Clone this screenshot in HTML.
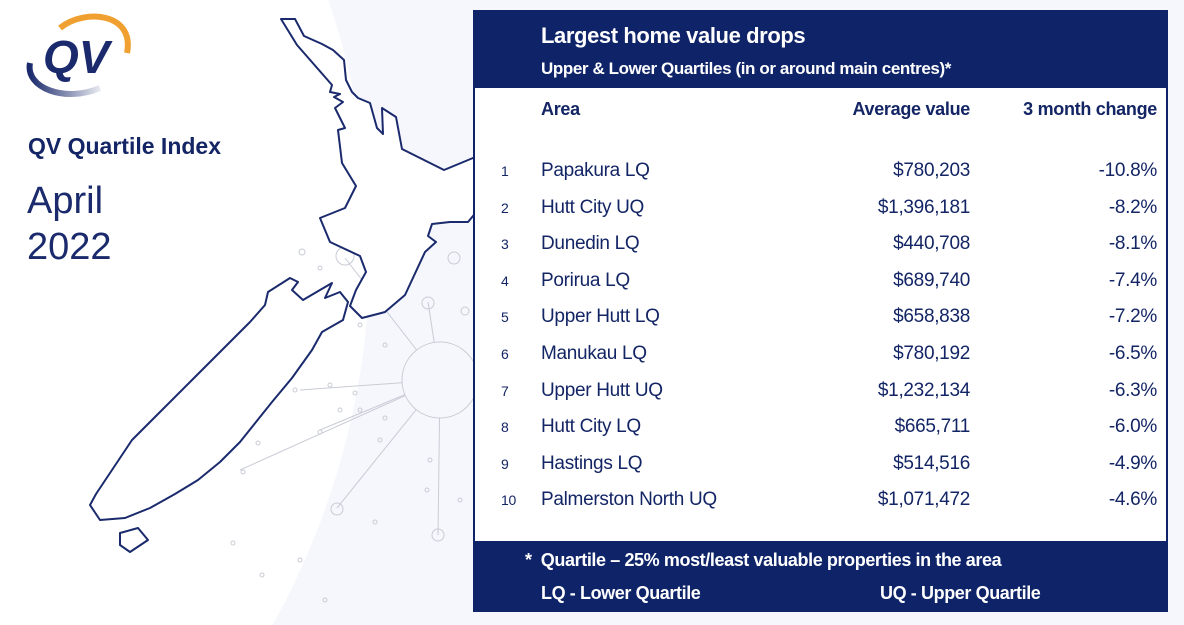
<!DOCTYPE html>
<html style="overflow:hidden;width:1184px;height:625px"><head><meta charset="utf-8"><style>
body{margin:0;width:1184px;height:625px;overflow:hidden;font-family:"Liberation Sans",sans-serif;background:#f5f7fc;position:relative;color:#132565}
.abs{position:absolute;white-space:nowrap}
.box{position:absolute;left:473px;top:10px;width:691px;height:598px;border:2px solid #0f2468;background:#fff;overflow:hidden}
.hdr{position:absolute;left:0;top:0;width:691px;height:76px;background:#0f2468}
.ftr{position:absolute;left:0;top:529px;width:691px;height:71px;background:#0f2468}
.w{color:#fff;font-weight:bold}
.row{position:absolute;left:0;width:691px;height:30px;font-size:19px;letter-spacing:-0.3px}
.row .n{position:absolute;left:26px;top:3px;font-size:14px}
.row .a{position:absolute;left:66px}
.row .v{position:absolute;right:196px}
.row .c{position:absolute;right:9px}
</style></head><body>
<svg class="abs" style="left:0;top:0" width="1184" height="625">
<circle cx="-400" cy="250" r="770" fill="#fff"/>
<g stroke="#c9ccd6" stroke-width="1" fill="none">
<line x1="440" y1="380" x2="345" y2="258"/><line x1="440" y1="380" x2="300" y2="390"/><line x1="440" y1="380" x2="240" y2="470"/><line x1="440" y1="380" x2="337" y2="508"/><line x1="440" y1="380" x2="438" y2="535"/><line x1="440" y1="380" x2="428" y2="302"/><line x1="440" y1="380" x2="320" y2="430"/>
<circle cx="440" cy="380" r="38" fill="#f5f7fc"/>
<circle cx="345" cy="256" r="9"/><circle cx="428" cy="303" r="6"/><circle cx="454" cy="258" r="6"/><circle cx="337" cy="509" r="6"/><circle cx="438" cy="535" r="6"/><circle cx="465" cy="311" r="4"/><circle cx="302" cy="252" r="3"/>
<circle cx="320" cy="268" r="2"/><circle cx="360" cy="325" r="2"/><circle cx="385" cy="345" r="2"/><circle cx="295" cy="390" r="2"/><circle cx="330" cy="385" r="2"/><circle cx="355" cy="393" r="2"/><circle cx="340" cy="410" r="2"/><circle cx="360" cy="410" r="2"/><circle cx="385" cy="418" r="2"/><circle cx="320" cy="432" r="2"/><circle cx="258" cy="443" r="2"/><circle cx="380" cy="440" r="2"/><circle cx="430" cy="460" r="2"/><circle cx="243" cy="472" r="2"/><circle cx="427" cy="490" r="2"/><circle cx="375" cy="522" r="2"/><circle cx="233" cy="543" r="2"/><circle cx="262" cy="575" r="2"/><circle cx="300" cy="560" r="2"/><circle cx="325" cy="600" r="2"/><circle cx="460" cy="500" r="2"/>
</g>
<g stroke="#1a2a6c" stroke-width="2" fill="#fff" stroke-linejoin="round">
<path d="M281,19 L295,19 L304,36 L322,44 L333,50 L344,60 L346,80 L352,92 L358,98 L370,103 L377,128 L383,134 L382,108 L396,117 L402,149 L444,170 L473,158 L495,152 L500,175 L478,210 L468,222 L450,222 L432,224 L428,236 L436,242 L425,252 L405,295 L385,312 L362,318 L350,306 L356,290 L366,272 L360,256 L330,242 L320,218 L345,208 L356,186 L342,163 L338,130 L345,128 L335,108 L343,102 L334,97 L340,94 L330,92 L332,85 L297,45 Z"/>
<path d="M268,292 L290,278 L298,282 L292,290 L303,300 L320,290 L332,283 L325,298 L340,292 L348,302 L343,320 L322,332 L312,350 L292,378 L272,402 L256,422 L240,442 L220,462 L198,480 L175,494 L150,508 L125,518 L100,520 L90,505 L96,494 L112,470 L132,440 L162,410 L192,380 L222,350 L250,322 L265,305 Z"/>
<path d="M120,533 L138,528 L148,540 L130,552 L120,545 Z"/>
</g>
</svg>
<svg class="abs" style="left:25px;top:8px" width="110" height="92">
<defs><linearGradient id="g1" x1="0" x2="1"><stop offset="0" stop-color="#1a2a6c"/><stop offset="1" stop-color="#1a2a6c" stop-opacity="0.1"/></linearGradient></defs>
<path d="M5,55 C0,80 40,95 75,80" stroke="url(#g1)" stroke-width="6" fill="none"/>
<path d="M35,20 C60,0 110,5 102,45" stroke="#f0a030" stroke-width="6" fill="none"/>
<text x="18" y="65" font-size="46" font-weight="bold" font-style="italic" fill="#1a2a6c" font-family="Liberation Sans">QV</text>
</svg>
<div class="abs" style="left:28px;top:133px;font-size:23px;font-weight:bold;color:#132565">QV Quartile Index</div>
<div class="abs" style="left:27px;top:178px;font-size:38px;line-height:46px;color:#1a2a6c">April<br>2022</div>
<div class="box">
<div class="hdr">
<div class="abs w" style="left:66px;top:11px;font-size:22px;letter-spacing:-0.4px">Largest home value drops</div>
<div class="abs w" style="left:66px;top:47px;font-size:17px;letter-spacing:-0.4px">Upper &amp; Lower Quartiles (in or around main centres)*</div>
</div>
<div class="row" style="top:87px;font-weight:bold;font-size:18px">
<span class="a">Area</span><span class="v">Average value</span><span class="c">3 month change</span></div>
<div id="rows"></div>
<div class="ftr">
<div class="abs w" style="left:50px;top:9px;font-size:18px;letter-spacing:-0.4px">* &nbsp;Quartile – 25% most/least valuable properties in the area</div>
<div class="abs w" style="left:66px;top:42px;font-size:18px;letter-spacing:-0.4px">LQ - Lower Quartile</div>
<div class="abs w" style="left:405px;top:42px;font-size:18px;letter-spacing:-0.4px">UQ - Upper Quartile</div>
</div>
</div>
<script>
const areas=["Papakura LQ","Hutt City UQ","Dunedin LQ","Porirua LQ","Upper Hutt LQ","Manukau LQ","Upper Hutt UQ","Hutt City LQ","Hastings LQ","Palmerston North UQ"];
const values=["$780,203","$1,396,181","$440,708","$689,740","$658,838","$780,192","$1,232,134","$665,711","$514,516","$1,071,472"];
const changes=["-10.8%","-8.2%","-8.1%","-7.4%","-7.2%","-6.5%","-6.3%","-6.0%","-4.9%","-4.6%"];
const host=document.getElementById('rows');
areas.forEach((a,i)=>{
 const r=document.createElement('div');
 r.className='row';
 r.style.top=(148+i*36.6)+'px';
 
 
 r.innerHTML='<span class="n">'+(i+1)+'</span><span class="a">'+a+'</span><span class="v">'+values[i]+'</span><span class="c">'+changes[i]+'</span>';
 host.appendChild(r);
});
</script>
</body></html>
